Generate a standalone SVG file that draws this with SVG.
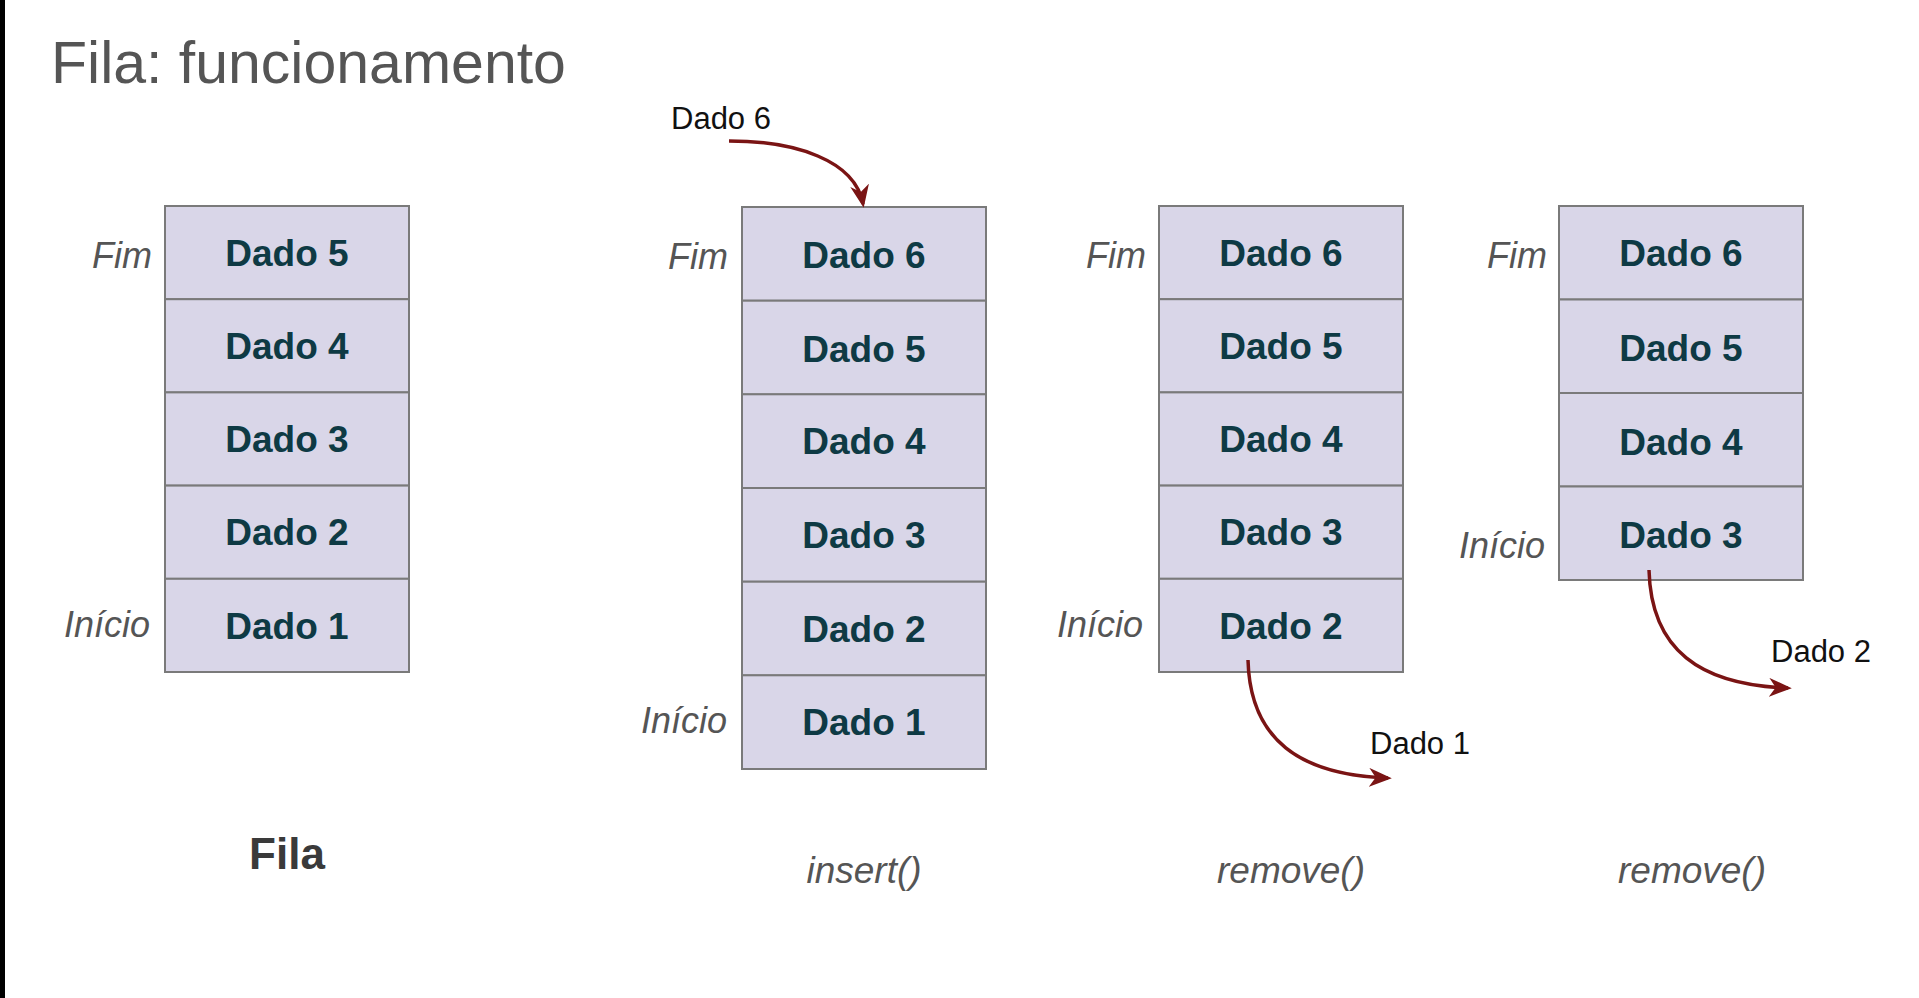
<svg xmlns="http://www.w3.org/2000/svg" width="1919" height="998" viewBox="0 0 1919 998">
<defs>
<style>
.cell{fill:#d9d6e8;stroke:#7a7a7a;stroke-width:2}
.dt{font-family:"Liberation Sans",Arial,sans-serif;font-weight:bold;font-size:37px;fill:#0e3a44;text-anchor:middle}
.lab{font-family:"Liberation Sans",Arial,sans-serif;font-style:italic;font-size:36px;fill:#555;text-anchor:end}
.op{font-family:"Liberation Sans",Arial,sans-serif;font-style:italic;font-size:37px;fill:#555;text-anchor:middle}
.dl{font-family:"Liberation Sans",Arial,sans-serif;font-size:31px;fill:#111}
.arr{fill:none;stroke:#7a1414;stroke-width:3.5}
</style>
<marker id="ah" viewBox="0 0 12 10" refX="10" refY="5" markerWidth="6.5" markerHeight="5.5" markerUnits="strokeWidth" orient="auto">
<path d="M0,0 L12,5 L0,10 L3.5,5 z" fill="#7a1414"/>
</marker>
</defs>
<rect x="0" y="0" width="1919" height="998" fill="#fff"/>
<rect x="0" y="0" width="5" height="998" fill="#000"/>
<text x="51" y="83" font-family="Liberation Sans,Arial,sans-serif" font-size="59" fill="#555">Fila: funcionamento</text>

<g id="c1">
<g id="c1r1"><rect class="cell" x="165" y="206" width="244" height="93.2"/><text class="dt" x="287" y="266">Dado 5</text></g>
<g id="c1r2"><rect class="cell" x="165" y="299.2" width="244" height="93.2"/><text class="dt" x="287" y="359">Dado 4</text></g>
<g id="c1r3"><rect class="cell" x="165" y="392.4" width="244" height="93.2"/><text class="dt" x="287" y="452">Dado 3</text></g>
<g id="c1r4"><rect class="cell" x="165" y="485.6" width="244" height="93.2"/><text class="dt" x="287" y="545">Dado 2</text></g>
<g id="c1r5"><rect class="cell" x="165" y="578.8" width="244" height="93.2"/><text class="dt" x="287" y="639">Dado 1</text></g>
<text class="lab" x="152" y="268">Fim</text>
<text class="lab" x="150" y="637">Início</text>
<text x="287" y="869" font-family="Liberation Sans,Arial,sans-serif" font-weight="bold" font-size="44" fill="#3a3a3a" text-anchor="middle">Fila</text>
</g>

<g id="c2">
<g id="c2r1"><rect class="cell" x="742" y="207" width="244" height="93.7"/><text class="dt" x="864" y="268">Dado 6</text></g>
<g id="c2r2"><rect class="cell" x="742" y="300.7" width="244" height="93.7"/><text class="dt" x="864" y="362">Dado 5</text></g>
<g id="c2r3"><rect class="cell" x="742" y="394.3" width="244" height="93.7"/><text class="dt" x="864" y="454">Dado 4</text></g>
<g id="c2r4"><rect class="cell" x="742" y="488" width="244" height="93.7"/><text class="dt" x="864" y="548">Dado 3</text></g>
<g id="c2r5"><rect class="cell" x="742" y="581.7" width="244" height="93.7"/><text class="dt" x="864" y="642">Dado 2</text></g>
<g id="c2r6"><rect class="cell" x="742" y="675.3" width="244" height="93.7"/><text class="dt" x="864" y="735">Dado 1</text></g>
<text class="lab" x="728" y="269">Fim</text>
<text class="lab" x="727" y="733">Início</text>
<text class="op" x="864" y="883">insert()</text>
<text class="dl" x="671" y="129">Dado 6</text>
</g>

<g id="c3">
<g id="c3r1"><rect class="cell" x="1159" y="206" width="244" height="93.2"/><text class="dt" x="1281" y="266">Dado 6</text></g>
<g id="c3r2"><rect class="cell" x="1159" y="299.2" width="244" height="93.2"/><text class="dt" x="1281" y="359">Dado 5</text></g>
<g id="c3r3"><rect class="cell" x="1159" y="392.4" width="244" height="93.2"/><text class="dt" x="1281" y="452">Dado 4</text></g>
<g id="c3r4"><rect class="cell" x="1159" y="485.6" width="244" height="93.2"/><text class="dt" x="1281" y="545">Dado 3</text></g>
<g id="c3r5"><rect class="cell" x="1159" y="578.8" width="244" height="93.2"/><text class="dt" x="1281" y="639">Dado 2</text></g>
<text class="lab" x="1146" y="268">Fim</text>
<text class="lab" x="1143" y="637">Início</text>
<text class="op" x="1291" y="883">remove()</text>
<text class="dl" x="1370" y="754">Dado 1</text>
</g>

<g id="c4">
<g id="c4r1"><rect class="cell" x="1559" y="206" width="244" height="93.5"/><text class="dt" x="1681" y="266">Dado 6</text></g>
<g id="c4r2"><rect class="cell" x="1559" y="299.5" width="244" height="93.5"/><text class="dt" x="1681" y="361">Dado 5</text></g>
<g id="c4r3"><rect class="cell" x="1559" y="393" width="244" height="93.5"/><text class="dt" x="1681" y="455">Dado 4</text></g>
<g id="c4r4"><rect class="cell" x="1559" y="486.5" width="244" height="93.5"/><text class="dt" x="1681" y="548">Dado 3</text></g>
<text class="lab" x="1547" y="268">Fim</text>
<text class="lab" x="1545" y="558">Início</text>
<text class="op" x="1692" y="883">remove()</text>
<text class="dl" x="1771" y="662">Dado 2</text>
</g>

<g id="connectors">
<path class="arr" marker-end="url(#ah)" d="M729,141 C795,141 855,160 863,204"/>
<path class="arr" marker-end="url(#ah)" d="M1248,660 C1250,740 1300,775 1388,778"/>
<path class="arr" marker-end="url(#ah)" d="M1649,570 C1651,650 1700,685 1788,688"/>
</g>
</svg>
